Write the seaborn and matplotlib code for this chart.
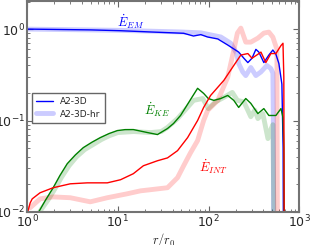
import numpy as np
import pandas as pd
import matplotlib
matplotlib.use("Agg")
import matplotlib.pyplot as plt
import seaborn as sns

# values (r/r0, energy flux)
r_em = [1.0, 5.0, 10.7, 22.9, 53, 68, 82, 97, 126, 162, 214, 244, 270, 300, 331, 357, 405, 460, 509, 550, 593, 640, 660, 675]
e_em = [1.0, 0.98, 0.96, 0.93, 0.90, 0.84, 0.87, 0.82, 0.78, 0.67, 0.56, 0.48, 0.43, 0.48, 0.60, 0.56, 0.43, 0.52, 0.59, 0.53, 0.42, 0.25, 0.05, 1e-4]

r_ke = [1.2, 1.32, 1.6, 1.94, 2.3, 2.77, 3.4, 4.16, 5.2, 6.4, 8.0, 9.87, 12, 14.8, 21.2, 27.3, 35.2, 41, 49, 55.7, 63.2, 75.5, 88, 99, 114, 136, 162, 189, 214, 256, 291, 348, 405, 460, 550, 625, 658, 672, 700]
e_ke = [0.007, 0.0097, 0.0135, 0.0184, 0.025, 0.0337, 0.042, 0.0505, 0.058, 0.065, 0.072, 0.0776, 0.0795, 0.0796, 0.0738, 0.0702, 0.0817, 0.0927, 0.1135, 0.139, 0.17, 0.225, 0.198, 0.174, 0.166, 0.174, 0.188, 0.166, 0.139, 0.174, 0.154, 0.119, 0.135, 0.1135, 0.1135, 0.135, 0.108, 0.05, 1e-4]

r_int = [1.0, 1.026, 1.08, 1.14, 1.39, 1.94, 2.99, 4.6, 7.65, 10.7, 14.8, 19.1, 27.3, 35.2, 45.4, 58.6, 75.5, 88, 105, 147, 189, 226, 270, 300, 348, 376, 426, 484, 550, 625, 658, 672, 685]
e_int = [0.0097, 0.0103, 0.0125, 0.0139, 0.0162, 0.0184, 0.0203, 0.0208, 0.0208, 0.0225, 0.0262, 0.032, 0.0363, 0.039, 0.0468, 0.065, 0.1, 0.139, 0.188, 0.275, 0.40, 0.52, 0.54, 0.48, 0.53, 0.56, 0.43, 0.54, 0.54, 0.66, 0.70, 0.3, 1e-4]

# high resolution run
r_em_hr = [1.0, 10, 50, 82, 136, 175, 204, 214, 237, 256, 291, 331, 376, 437, 484, 509, 515, 522]
e_em_hr = [1.0, 0.97, 0.93, 0.91, 0.82, 0.70, 0.54, 0.42, 0.34, 0.31, 0.38, 0.31, 0.34, 0.40, 0.37, 0.33, 0.1, 1e-4]

r_ke_hr = [1.25, 1.4, 1.7, 2.0, 2.4, 2.9, 3.5, 4.3, 5.4, 6.6, 8.0, 10, 15, 22.9, 30, 35.2, 45.4, 55, 68.2, 86, 99, 119, 147, 182, 207, 244, 291, 322, 348, 395, 449, 484, 509, 550]
e_ke_hr = [0.008, 0.0103, 0.0135, 0.0175, 0.024, 0.032, 0.04, 0.048, 0.055, 0.062, 0.068, 0.0738, 0.0757, 0.0738, 0.0757, 0.084, 0.105, 0.13, 0.166, 0.174, 0.135, 0.16, 0.179, 0.203, 0.166, 0.16, 0.11, 0.13, 0.105, 0.119, 0.0634, 0.08, 0.09, 1e-4]

r_int_hr = [1.08, 1.39, 1.94, 2.99, 4.97, 7.65, 12.7, 17.7, 22.9, 35.2, 45.4, 53, 63.2, 75.5, 88, 97.5, 126, 162, 189, 207, 226, 256, 291, 348, 405, 460, 509, 564, 579]
e_int_hr = [0.0111, 0.0139, 0.0146, 0.0143, 0.0129, 0.0143, 0.0158, 0.017, 0.0175, 0.0184, 0.0237, 0.032, 0.0445, 0.0603, 0.1, 0.129, 0.166, 0.297, 0.588, 0.904, 1.025, 0.72, 0.72, 0.796, 0.904, 0.927, 0.817, 0.6, 1e-4]

sns.set_style("ticks")
plt.rcParams['font.family'] = ['DejaVu Sans']
plt.rcParams['mathtext.fontset'] = 'cm'

fig = plt.figure(figsize=(3.11, 2.45), dpi=100)
ax = fig.add_axes([0.087, 0.135, 0.876, 0.861])

# thick faint lines for the hr run
sns.lineplot(x=r_em_hr, y=e_em_hr, color='b', alpha=0.2, lw=3.5, sort=False, estimator=None, ax=ax, label='A2-3D-hr')
sns.lineplot(x=r_ke_hr, y=e_ke_hr, color='g', alpha=0.2, lw=3.5, sort=False, estimator=None, ax=ax)
sns.lineplot(x=r_int_hr, y=e_int_hr, color='r', alpha=0.2, lw=3.5, sort=False, estimator=None, ax=ax)

sns.lineplot(x=r_em, y=e_em, color='b', lw=1, sort=False, estimator=None, ax=ax, label='A2-3D')
sns.lineplot(x=r_ke, y=e_ke, color='g', lw=1, sort=False, estimator=None, ax=ax)
sns.lineplot(x=r_int, y=e_int, color='r', lw=1, sort=False, estimator=None, ax=ax)

ax.set_xscale('log')
ax.set_yscale('log')
ax.set_xlim(1, 1000)
ax.set_ylim(0.01, 2.03)

ax.text(13.7, 1.19, r'$\dot{E}_{EM}$', color='b', fontsize=9, ha='center', va='center')
ax.text(26.6, 0.13, r'$\dot{E}_{KE}$', color='g', fontsize=9, ha='center', va='center')
ax.text(113, 0.031, r'$\dot{E}_{INT}$', color='r', fontsize=9, ha='center', va='center')

ax.set_xlabel(r'$r/r_0$', fontsize=9, labelpad=0)
ax.set_ylabel('')
ax.tick_params(which='both', direction='in', top=True, right=True, labelsize=9, color='0.4', pad=1.5)
ax.tick_params(which='major', length=4)
ax.tick_params(which='minor', length=2)
for s in ax.spines.values():
    s.set_color('0.45')
    s.set_linewidth(1.5)

h, l = ax.get_legend_handles_labels()
ax.legend(h[::-1], l[::-1], loc='upper left', bbox_to_anchor=(0.018, 0.564), borderaxespad=0, fontsize=6.5,
          fancybox=False, edgecolor='0.4', framealpha=1, handlelength=1.8, borderpad=0.5, labelspacing=0.35)

fig.savefig('out.png', dpi=100)
